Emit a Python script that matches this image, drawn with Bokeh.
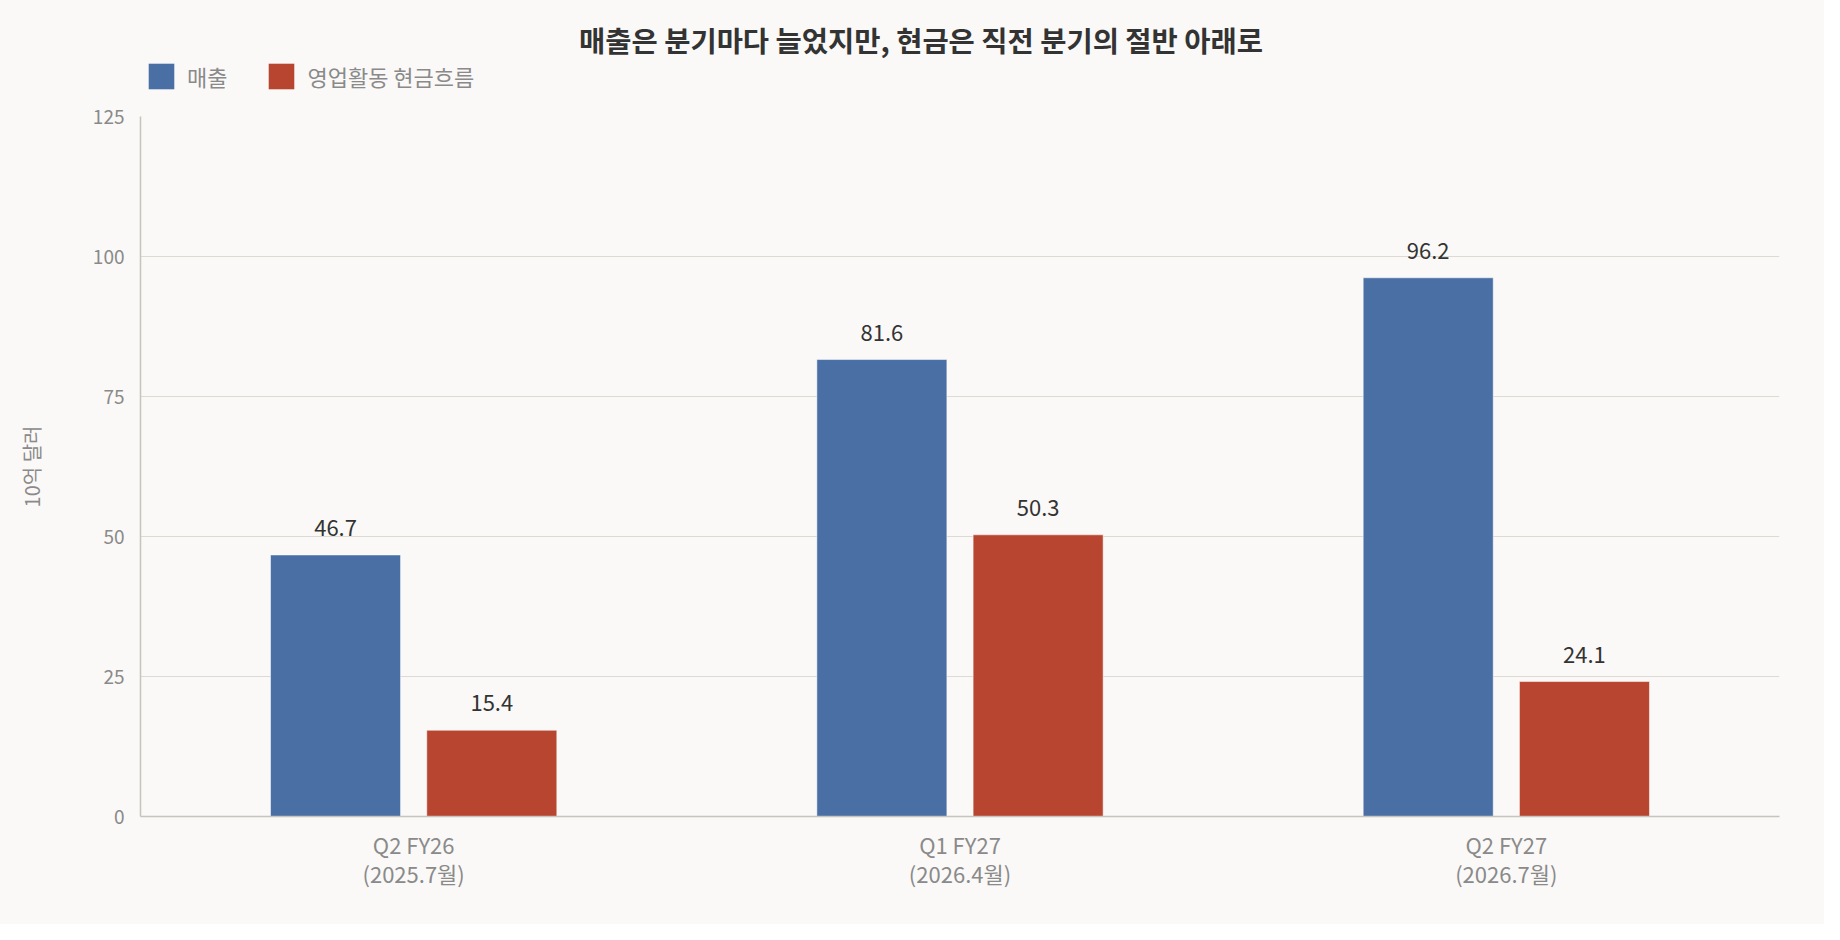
from bokeh.plotting import figure
from bokeh.layouts import column
from bokeh.models import (ColumnDataSource, FactorRange, FixedTicker, Legend, LegendItem,
                          Label, Range1d, CategoricalAxis)
from bokeh.transform import dodge
from bokeh.core.properties import value
from bokeh.embed import file_html
from bokeh.resources import INLINE

quarters = ["Q2 FY26", "Q1 FY27", "Q2 FY27"]
periods = ["(2025.7월)", "(2026.4월)", "(2026.7월)"]
revenue = [46.7, 81.6, 96.2]
cashflow = [15.4, 50.3, 24.1]
series_names = ["매출", "영업활동 현금흐름"]
y_ticks = [0, 25, 50, 75, 100, 125]
title_text = "매출은 분기마다 늘었지만, 현금은 직전 분기의 절반 아래로"

FONT = "Noto Sans CJK KR"
BG = "#FAF9F7"
BLUE = "#4A6FA5"
RED = "#B8452F"
GRAY = "#8A8A8A"

W = 1824
HEAD_H = 100

# ---------- header (title + legend); its frame is aligned with the chart frame ----------
head = figure(width=W, height=HEAD_H, x_range=Range1d(0, 1), y_range=Range1d(0, 1),
              output_backend="svg", toolbar_location=None,
              x_axis_location=None, y_axis_location=None,
              min_border_left=140, min_border_right=45, min_border_top=0, min_border_bottom=0,
              background_fill_color=BG, border_fill_color=BG)
head.outline_line_color = None
head.grid.grid_line_color = None
# zero-size proxies that only carry the legend swatches
h1 = head.vbar(x=[0.5], top=[0], width=0, fill_color=BLUE, line_color=None)
h2 = head.vbar(x=[0.5], top=[0], width=0, fill_color=RED, line_color=None)
head.add_layout(Label(x=780.5, y=61, x_units="screen", y_units="screen",
                      text=title_text, text_align="center", text_baseline="middle",
                      text_font=FONT, text_font_size="28.5px", text_font_style="bold",
                      text_color="#333333"))
legend = Legend(items=[LegendItem(label=series_names[0], renderers=[h1]),
                       LegendItem(label=series_names[1], renderers=[h2])],
                orientation="horizontal", location=(5, 8),
                padding=0, margin=0, spacing=38,
                glyph_width=32, glyph_height=32, label_standoff=10,
                label_text_font=FONT, label_text_font_size="22px",
                label_text_color=GRAY,
                background_fill_alpha=0, border_line_color=None)
head.add_layout(legend, "center")

# ---------- main chart ----------
src = ColumnDataSource(dict(
    cat=quarters,
    rev=revenue,
    ocf=cashflow,
    rev_lbl=[f"{v:.1f}" for v in revenue],
    ocf_lbl=[f"{v:.1f}" for v in cashflow],
))

p = figure(
    width=W, height=824,
    x_range=FactorRange(*quarters, range_padding=0),
    y_range=Range1d(0, y_ticks[-1]),
    output_backend="svg", toolbar_location=None,
    min_border_left=140, min_border_right=45,
    min_border_top=16, min_border_bottom=108,
    background_fill_color=BG, border_fill_color=BG,
)
p.outline_line_color = None
p.extra_x_ranges = {"periods": FactorRange(*periods, range_padding=0)}

p.vbar(x=dodge("cat", -0.143, range=p.x_range), top="rev", width=0.238,
       source=src, fill_color=BLUE, line_color="#ffffff", line_alpha=0.5, line_width=1)
p.vbar(x=dodge("cat", 0.143, range=p.x_range), top="ocf", width=0.238,
       source=src, fill_color=RED, line_color="#ffffff", line_alpha=0.5, line_width=1)

for col, off in (("rev", -0.143), ("ocf", 0.143)):
    p.text(x=dodge("cat", off, range=p.x_range), y=col, text=col + "_lbl", source=src,
           text_align="center", text_baseline="bottom", y_offset=-19,
           text_font=value(FONT), text_font_size="22px", text_color="#333333")

# second row of category labels (dates), on a parallel factor range
p.add_layout(CategoricalAxis(x_range_name="periods"), "below")

p.yaxis.ticker = FixedTicker(ticks=y_ticks)
p.yaxis.axis_label = "10억 달러"
p.yaxis.axis_label_text_font = FONT
p.yaxis.axis_label_text_font_size = "20px"
p.yaxis.axis_label_text_font_style = "normal"
p.yaxis.axis_label_text_color = GRAY
p.yaxis.axis_label_standoff = 44
for ax in p.xaxis + p.yaxis:
    ax.axis_line_color = "#C8C4BC"
    ax.axis_line_width = 1.5
    ax.major_tick_line_color = None
    ax.minor_tick_line_color = None
    ax.major_label_text_font = FONT
    ax.major_label_text_font_size = "19px"
    ax.major_label_text_color = GRAY
p.yaxis.major_label_standoff = 10
for i, ax in enumerate(p.xaxis):
    ax.major_label_text_font_size = "22px"
    ax.major_label_standoff = 5 if i == 0 else -12
    if i > 0:
        ax.axis_line_color = None

p.xgrid.grid_line_color = None
p.ygrid.grid_line_color = "#DEDAD3"
p.ygrid.grid_line_width = 1.2

layout = column(head, p, spacing=0, styles={"background-color": BG})
open("out.html", "w").write(file_html(layout, INLINE))
